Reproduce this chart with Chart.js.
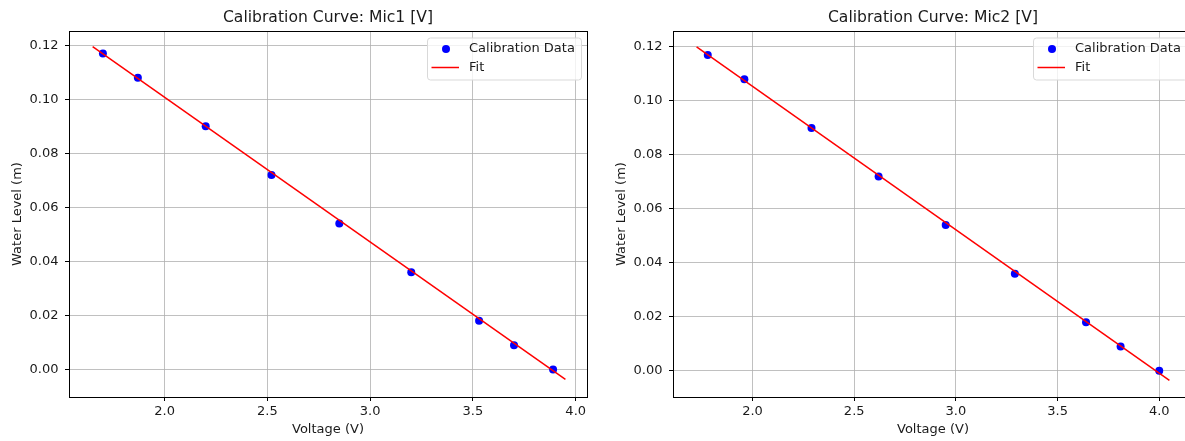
<!DOCTYPE html>
<html>
<head>
<meta charset="utf-8">
<script src="https://cdn.jsdelivr.net/npm/chart.js@4"></script>
<style>
  html, body { margin: 0; padding: 0; background: #fff; overflow: hidden; }
  #wrap { position: relative; width: 1185px; height: 441px; overflow: hidden; }
  canvas { position: absolute; top: 0; }
  #mic1 { left: 0; }
  #mic2 { left: 600px; }
</style>
</head>
<body>
<div id="wrap">
  <canvas id="mic1" width="600" height="441"></canvas>
  <canvas id="mic2" width="600" height="441"></canvas>
</div>
<script>
// calibration points
const waterLevel = [0.117, 0.108, 0.090, 0.072, 0.054, 0.036, 0.018, 0.009, 0.000]
const voltageMic1 = [1.70, 1.87, 2.20, 2.52, 2.85, 3.20, 3.53, 3.70, 3.89]
const voltageMic2 = [1.78, 1.96, 2.29, 2.62, 2.95, 3.29, 3.64, 3.81, 4.00]

// fit line end points
const fitMic1X = [1.65, 3.95]
const fitMic1Y = [0.1195, -0.0037]
const fitMic2X = [1.725, 4.05]
const fitMic2Y = [0.1200, -0.0035]

const titles = ['Calibration Curve: Mic1 [V]', 'Calibration Curve: Mic2 [V]']
const xLabel = 'Voltage (V)'
const yLabel = 'Water Level (m)'

const FONT = "'DejaVu Sans', sans-serif"
const TXT = '#1a1a1a'
const FS = 13

let pairs = (xs, ys) => xs.map((x, i) => ({x: x, y: ys[i]}))

// title + frame + legend in matplotlib style
const mplDecor = {
    id: 'mplDecor',
    afterDraw(chart, args, opts) {
        const ctx = chart.ctx
        const a = chart.chartArea
        ctx.save()
        // frame
        ctx.strokeStyle = '#000'
        ctx.lineWidth = 1
        ctx.strokeRect(Math.round(a.left) + 0.5, Math.round(a.top) + 0.5,
            Math.round(a.right - a.left), Math.round(a.bottom - a.top))
        // title
        ctx.fillStyle = TXT
        ctx.font = '15.6px ' + FONT
        ctx.textAlign = 'center'
        ctx.textBaseline = 'middle'
        ctx.fillText(opts.title, (a.left + a.right) / 2, 17.5)
        // legend box
        const bx = a.right - 160, by = a.top + 6.5, bw = 154, bh = 42
        ctx.beginPath()
        ctx.roundRect(bx + 0.5, by + 0.5, bw, bh, 3)
        ctx.fillStyle = 'rgba(255,255,255,0.8)'
        ctx.fill()
        ctx.strokeStyle = '#d9d9d9'
        ctx.lineWidth = 1
        ctx.stroke()
        const ds = chart.data.datasets
        // scatter entry
        ctx.fillStyle = ds[0].backgroundColor
        ctx.beginPath()
        ctx.arc(bx + 19, by + 11.5, 4, 0, Math.PI * 2)
        ctx.fill()
        // line entry
        ctx.strokeStyle = ds[1].borderColor
        ctx.lineWidth = 1.5
        ctx.beginPath()
        ctx.moveTo(bx + 4.5, by + 30)
        ctx.lineTo(bx + 32, by + 30)
        ctx.stroke()
        ctx.fillStyle = TXT
        ctx.font = FS + 'px ' + FONT
        ctx.textAlign = 'left'
        ctx.fillText(ds[0].label, bx + 42, by + 11.5)
        ctx.fillText(ds[1].label, bx + 42, by + 30)
        ctx.restore()
    }
}

let makeChart = (id, title, vx, fx, fy, xRange, yRange, pad) => {
    return new Chart(document.getElementById(id), {
        type: 'scatter',
        data: {
            datasets: [{
                label: 'Calibration Data',
                data: pairs(vx, waterLevel),
                backgroundColor: 'blue',
                borderWidth: 0,
                pointRadius: 4,
                pointHoverRadius: 4,
                order: 2
            }, {
                type: 'line',
                label: 'Fit',
                data: pairs(fx, fy),
                borderColor: 'red',
                borderWidth: 1.5,
                pointRadius: 0,
                showLine: true,
                fill: false,
                order: 1
            }]
        },
        options: {
            responsive: false,
            animation: false,
            devicePixelRatio: 1,
            events: [],
            layout: { padding: pad },
            plugins: {
                legend: { display: false },
                tooltip: { enabled: false },
                title: { display: false },
                mplDecor: { title: title }
            },
            scales: {
                x: {
                    type: 'linear',
                    min: xRange[0],
                    max: xRange[1],
                    afterFit: (s) => { s.height = 44 },
                    border: { display: false },
                    grid: { color: '#b0b0b0', lineWidth: 0.8, tickColor: '#000', tickLength: 4, tickWidth: 1 },
                    ticks: {
                        stepSize: 0.5,
                        includeBounds: false,
                        padding: 3,
                        color: TXT,
                        font: { family: FONT, size: FS },
                        maxRotation: 0,
                        callback: (v) => v.toFixed(1)
                    },
                    title: {
                        display: true,
                        text: xLabel,
                        color: TXT,
                        font: { family: FONT, size: FS },
                        padding: { top: 0, bottom: 3.2 }
                    }
                },
                y: {
                    type: 'linear',
                    min: yRange[0],
                    max: yRange[1],
                    afterFit: (s) => { s.width = 69 },
                    border: { display: false },
                    grid: { color: '#b0b0b0', lineWidth: 0.8, tickColor: '#000', tickLength: 4, tickWidth: 1 },
                    ticks: {
                        stepSize: 0.02,
                        includeBounds: false,
                        padding: 6.5,
                        color: TXT,
                        font: { family: FONT, size: FS },
                        callback: (v) => v.toFixed(2)
                    },
                    title: {
                        display: true,
                        text: yLabel,
                        color: TXT,
                        font: { family: FONT, size: FS },
                        padding: { top: 9.7, bottom: 0 }
                    }
                }
            }
        },
        plugins: [mplDecor]
    })
}

makeChart('mic1', titles[0], voltageMic1, fitMic1X, fitMic1Y,
    [1.535, 4.055], [-0.0102, 0.1253], { left: 0, top: 31, right: 13, bottom: 0 })
makeChart('mic2', titles[1], voltageMic2, fitMic2X, fitMic2Y,
    [1.609, 4.166], [-0.0097, 0.1259], { left: 4, top: 31, right: 7, bottom: 0 })
</script>
</body>
</html>
